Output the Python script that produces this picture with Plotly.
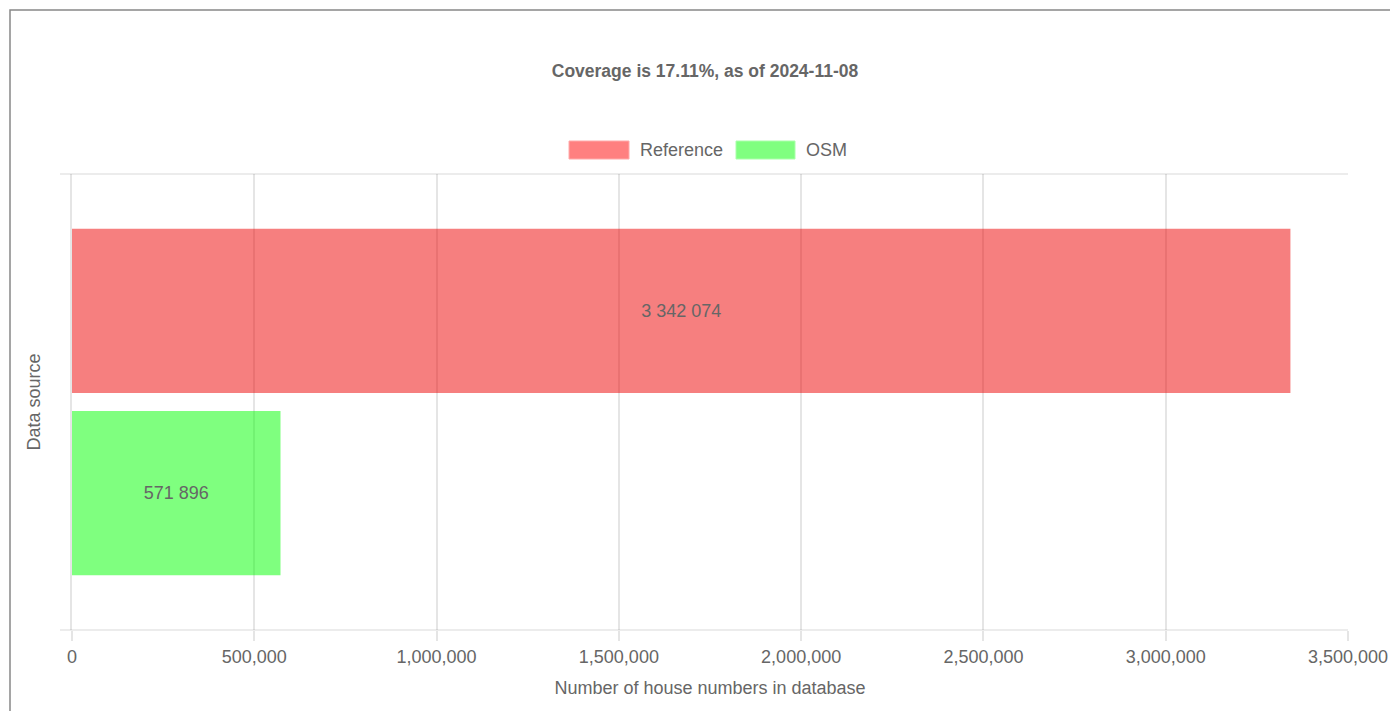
import plotly.graph_objects as go

# ---- data ----
category = ["Total"]
series_names = ["Reference", "OSM"]
reference_values = [3342074]
osm_values = [571896]
title_text = "Coverage is 17.11%, as of 2024-11-08"
x_title = "Number of house numbers in database"
y_title = "Data source"
x_tick_vals = [0, 500000, 1000000, 1500000, 2000000, 2500000, 3000000, 3500000]
x_tick_text = ["0", "500,000", "1,000,000", "1,500,000", "2,000,000",
               "2,500,000", "3,000,000", "3,500,000"]

# ---- styling ----
W, H = 1390, 711
# plot area in window pixel coordinates
PX0, PX1, PY0, PY1 = 72, 1348, 174, 630
L, R, T, B = PX0, W - PX1, PY0, H - PY1
PW, PH = PX1 - PX0, PY1 - PY0
FONT = "Liberation Sans, Arial, sans-serif"
TXT = "#666666"
GRID = "rgba(0,0,0,0.1)"
fills = ["rgba(237,0,0,0.5)", "rgba(0,255,0,0.5)"]
swatch_fill = ["rgb(255,128,128)", "rgb(128,255,128)"]
swatch_line = ["rgb(255,170,170)", "rgb(170,255,170)"]


def px_x(p):
    return (p - PX0) / PW


def px_y(p):
    return (PY1 - p) / PH


def fmt(v):
    return f"{v:,}".replace(",", " ")


fig = go.Figure()
for name, vals, col in zip(series_names, [reference_values, osm_values], fills):
    fig.add_trace(go.Bar(
        name=name, orientation="h", y=category, x=vals,
        marker=dict(color=col, line=dict(width=0)),
        text=[fmt(v) for v in vals], textposition="inside",
        insidetextanchor="middle", constraintext="none",
        textfont=dict(family=FONT, size=18, color=TXT),
        showlegend=False,
    ))

shapes = []
# page border (top and left edges visible)
shapes.append(dict(type="rect", xref="paper", yref="paper",
                   x0=px_x(10), x1=px_x(1500), y0=px_y(800), y1=px_y(10),
                   line=dict(color="#888888", width=1.5), layer="below"))
# top and bottom lines extended to the left (tick marks)
for yy in (PY0, PY1):
    shapes.append(dict(type="line", xref="paper", yref="paper",
                       x0=px_x(60), x1=1, y0=px_y(yy), y1=px_y(yy),
                       line=dict(color=GRID, width=1.5), layer="below"))

# custom legend
annotations = []
leg = [(569, 629, 638), (736, 795, 804)]
for (x0, x1, tx), name, f, lc in zip(leg, series_names, swatch_fill, swatch_line):
    shapes.append(dict(type="rect", xref="paper", yref="paper",
                       x0=px_x(x0), x1=px_x(x1), y0=px_y(159), y1=px_y(141),
                       fillcolor=f, line=dict(color=lc, width=1)))
    annotations.append(dict(xref="paper", yref="paper", x=px_x(tx), y=px_y(150),
                            xanchor="left", yanchor="middle", showarrow=False,
                            text=name, font=dict(family=FONT, size=18, color=TXT)))

fig.update_layout(
    width=W, height=H,
    margin=dict(l=L, r=R, t=T, b=B, autoexpand=False),
    paper_bgcolor="white", plot_bgcolor="white",
    hovermode=False,
    barmode="group", bargap=0.2, bargroupgap=0.1,
    title=dict(text=f"<b>{title_text}</b>", xref="container", yref="container",
               x=705 / W, y=1 - 71 / H,
               xanchor="center", yanchor="middle",
               font=dict(family=FONT, size=17.5, color=TXT)),
    font=dict(family=FONT, size=18, color=TXT),
    shapes=shapes, annotations=annotations,
    xaxis=dict(range=[0, 3500000], tickmode="array", tickvals=x_tick_vals,
               ticktext=x_tick_text, automargin=False,
               showgrid=True, gridcolor=GRID, gridwidth=1.5, zeroline=False,
               ticks="outside", ticklen=10, tickcolor=GRID, tickwidth=1.5,
               showline=False, ticklabeloverflow="allow",
               tickfont=dict(family=FONT, size=18, color=TXT),
               title=dict(text=x_title, standoff=15,
                          font=dict(family=FONT, size=18, color=TXT))),
    yaxis=dict(type="category", autorange="reversed", showticklabels=False,
               automargin=False,
               showgrid=False, zeroline=False, ticks="",
               showline=True, linecolor=GRID, linewidth=1.5,
               title=dict(text=y_title, standoff=25,
                          font=dict(family=FONT, size=18, color=TXT))),
)

fig.write_html(
    "out.html",
    config={"displayModeBar": False},
    post_script="document.body.style.margin='0';document.body.style.overflow='hidden';",
)
